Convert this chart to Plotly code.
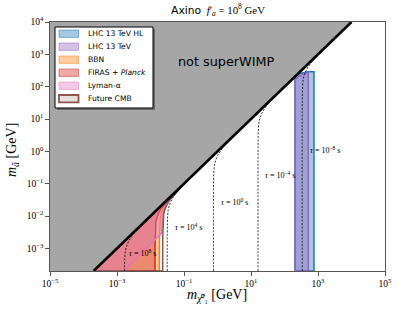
import plotly.graph_objects as go

# ---------------- data (GeV) ----------------
y_floor = 2e-4
diag_x = [2e-4, 1e4]
diag_y = [2e-4, 1e4]

# LHC regions
lhc_hl_x = [206, 206, 288, 513, 759, 759]
lhc_hl_y = [2e-4, 204, 257, 288, 288, 2e-4]
lhc_x = [206, 206, 282, 398, 513, 513]
lhc_y = [2e-4, 169, 214, 257, 278, 2e-4]

# cosmological boundaries (bottom -> kinematic edge)
firas_x = [0.01361, 0.01368, 0.01393, 0.01459, 0.0160, 0.01837, 0.0226, 0.0291, 0.0393, 0.0542]
firas_y = [2e-4, 1.361e-3, 4.11e-3, 6.82e-3, 9.64e-3, 0.01361, 0.01923, 0.02655, 0.03664, 0.0518]
bbn_x = [0.01832, 0.01841, 0.01875, 0.01963, 0.02153, 0.02472, 0.0304, 0.0392, 0.0528, 0.0730]
bbn_y = [2e-4, 1.832e-3, 5.53e-3, 9.18e-3, 0.01297, 0.01832, 0.0259, 0.0357, 0.0493, 0.0697]
cmb_x = [0.02312, 0.02323, 0.02366, 0.02477, 0.02716, 0.03119, 0.03837, 0.04943, 0.0667, 0.0920]
cmb_y = [2e-4, 2.312e-3, 6.98e-3, 0.01159, 0.01637, 0.02312, 0.03266, 0.04508, 0.0622, 0.0879]
lya_x = [1.66e-3, 0.02153, 0.02203, 0.02307, 0.02529, 0.02904, 0.0357, 0.0460, 0.0621, 0.0857]
lya_y = [2e-4, 3.02e-3, 6.50e-3, 0.01079, 0.01524, 0.02153, 0.0304, 0.0420, 0.0579, 0.0818]

# lifetime contours
tau_labels = ["10<sup>8</sup>", "10<sup>4</sup>", "10<sup>0</sup>", "10<sup>−4</sup>", "10<sup>−8</sup>"]
tau_x = [
    [1.66e-3, 1.70e-3, 1.78e-3, 1.95e-3, 2.24e-3, 2.75e-3, 3.55e-3, 4.8e-3, 6.6e-3],
    [0.0316, 0.0317, 0.0324, 0.0339, 0.0372, 0.0427, 0.0525, 0.0676, 0.0912, 0.126],
    [0.759, 0.762, 0.776, 0.813, 0.891, 1.023, 1.259, 1.622, 2.188, 3.02],
    [16.2, 16.3, 16.6, 17.4, 19.1, 21.9, 26.9, 34.7, 46.8, 64.6],
    [339, 340, 347, 363, 398, 457, 562, 724, 977, 1349],
]
tau_y = [
    [2e-4, 5e-4, 8.3e-4, 1.17e-3, 1.66e-3, 2.34e-3, 3.24e-3, 4.47e-3, 6.3e-3],
    [2e-4, 3.16e-3, 9.5e-3, 0.0158, 0.0224, 0.0316, 0.0447, 0.0617, 0.0851, 0.120],
    [2e-4, 0.0759, 0.229, 0.380, 0.537, 0.759, 1.072, 1.479, 2.042, 2.884],
    [2e-4, 1.62, 4.90, 8.13, 11.5, 16.2, 22.9, 31.6, 43.7, 61.7],
    [2e-4, 33.9, 102, 170, 240, 339, 479, 661, 912, 1288],
]
# label anchor positions (log10 GeV)
tau_lab_lx = [-2.71, -1.32, 0.03, 1.37, 2.71]
tau_lab_ly = [-3.13, -2.34, -1.56, -0.73, 0.04]

x_tickvals = [1e-5, 1e-3, 1e-1, 1e1, 1e3, 1e5]
x_ticktext = ["10<sup>−5</sup>", "10<sup>−3</sup>", "10<sup>−1</sup>", "10<sup>1</sup>", "10<sup>3</sup>", "10<sup>5</sup>"]
y_tickvals = [1e-3, 1e-2, 1e-1, 1, 10, 1e2, 1e3, 1e4]
y_ticktext = ["10<sup>−3</sup>", "10<sup>−2</sup>", "10<sup>−1</sup>", "10<sup>0</sup>", "10<sup>1</sup>", "10<sup>2</sup>", "10<sup>3</sup>", "10<sup>4</sup>"]

legend_names = ["LHC 13 TeV HL", "LHC 13 TeV", "BBN", "FIRAS + <i>Planck</i>", "Lyman-α", "Future CMB"]

# ---------------- styling ----------------
C_BLUE = (31, 119, 180)
C_PURP = (148, 103, 189)
C_ORNG = (255, 127, 14)
C_RED = (214, 39, 40)
C_PINK = (227, 119, 194)
C_BRWN = (140, 86, 75)


def rgba(c, a):
    return "rgba(%d,%d,%d,%s)" % (c[0], c[1], c[2], a)


SERIF = "Liberation Serif"
SANS = "DejaVu Sans"

W, H = 398, 314
ML, MR, MT, MB = 50, 13, 22, 43
PW, PH = W - ML - MR, H - MT - MB


def px(x, y):
    return (x - ML) / PW, 1 - (y - MT) / PH


fig = go.Figure()


def region(xs, ys, c, close_diag=True, pattern=None, fill_alpha=0.4):
    if close_diag:
        X = [y_floor] + list(xs) + [y_floor]
        Y = [y_floor] + list(ys) + [y_floor]
    else:
        X, Y = list(xs) + [xs[0]], list(ys) + [ys[0]]
    kw = {}
    if pattern:
        kw["fillpattern"] = pattern
        fc = "rgba(255,255,255,0)"
    else:
        fc = rgba(c, fill_alpha)
    fig.add_trace(go.Scatter(x=X, y=Y, mode="lines", fill="toself", fillcolor=fc,
                             line=dict(color=rgba(c, 1), width=1.5), showlegend=False,
                             hoverinfo="skip", **kw))


region(lhc_hl_x, lhc_hl_y, C_BLUE, close_diag=False)
region(lhc_x, lhc_y, C_PURP, close_diag=False)
region(bbn_x, bbn_y, C_ORNG)
region(firas_x, firas_y, C_RED)
region(lya_x, lya_y, C_PINK)
region(cmb_x, cmb_y, C_BRWN,
       pattern=dict(shape="x", fgcolor=rgba(C_BRWN, 0.25), size=4, solidity=0.2))

for tx, ty in zip(tau_x, tau_y):
    fig.add_trace(go.Scatter(x=tx, y=ty, mode="lines", line=dict(color="black", width=0.8, dash="2px,1.5px", shape="spline"),
                             showlegend=False, hoverinfo="skip"))

# not-superWIMP region (above m_a = m_chi)
fig.add_trace(go.Scatter(x=[diag_x[0], diag_x[1], 1e-5, 1e-5], y=[diag_y[0], diag_y[1], 1e4, y_floor],
                         mode="lines", fill="toself", fillcolor="#a6a6a6", line=dict(width=0),
                         showlegend=False, hoverinfo="skip"))
fig.add_trace(go.Scatter(x=diag_x, y=diag_y, mode="lines", line=dict(color="black", width=2.6),
                         showlegend=False, hoverinfo="skip"))

ann = []
for lab, lx, ly in zip(tau_labels, tau_lab_lx, tau_lab_ly):
    ann.append(dict(x=lx, y=ly, xref="x", yref="y", text="<i>τ</i> = " + lab + " s", showarrow=False,
                    xanchor="left", yanchor="middle", font=dict(family=SERIF, size=8, color="black")))

ann.append(dict(x=0.28, y=2.79, xref="x", yref="y", text="not superWIMP", showarrow=False,
                font=dict(family=SANS, size=12.8, color="black")))

# title
tx_, ty_ = px(218, 10)
ann.append(dict(x=tx_, y=ty_, xref="paper", yref="paper", showarrow=False, yanchor="middle",
                text='<span style="font-family:DejaVu Sans">Axino</span>  <i>f</i>′<sub><i>a</i></sub> = 10<sup>8</sup> GeV',
                font=dict(family=SERIF, size=10.8, color="black")))
# axis titles
ax_, ay_ = px(217, 295)
ann.append(dict(x=ax_, y=ay_, xref="paper", yref="paper", showarrow=False, yanchor="middle",
                text="<i>m</i><sub><i>χ̃</i>⁰₁</sub> [GeV]",
                font=dict(family=SERIF, size=14, color="black")))
bx_, by_ = px(12, 150)
ann.append(dict(x=bx_, y=by_, xref="paper", yref="paper", showarrow=False, textangle=-90,
                xanchor="center", yanchor="middle",
                text="<i>m</i><sub><i>ã</i></sub> [GeV]", font=dict(family=SERIF, size=14, color="black")))

# custom legend
shapes = []
x0, y0 = px(57, 29)
x1, y1 = px(155, 110)
shapes.append(dict(type="rect", xref="paper", yref="paper", x0=x0, y0=y0, x1=x1, y1=y1,
                   fillcolor="rgba(60,60,60,0.55)", line=dict(width=0), layer="above"))
x0, y0 = px(55, 27)
x1, y1 = px(153, 108)
shapes.append(dict(type="rect", xref="paper", yref="paper", x0=x0, y0=y0, x1=x1, y1=y1,
                   fillcolor="white", line=dict(color="black", width=1), layer="above"))
sw_cols = [C_BLUE, C_PURP, C_ORNG, C_RED, C_PINK]
for i, name in enumerate(legend_names):
    cy = 33.7 + 13 * i
    sx0, sy0 = px(59, cy - 3.7)
    sx1, sy1 = px(78.5, cy + 3.7)
    if i < 5:
        shapes.append(dict(type="rect", xref="paper", yref="paper", x0=sx0, y0=sy0, x1=sx1, y1=sy1,
                           fillcolor=rgba(sw_cols[i], 0.4), line=dict(color=rgba(sw_cols[i], 0.5), width=1),
                           layer="above"))
    else:
        shapes.append(dict(type="rect", xref="paper", yref="paper", x0=sx0, y0=sy0, x1=sx1, y1=sy1,
                           fillcolor="#e4e0e0", line=dict(color=rgba(C_BRWN, 1), width=1.8), layer="above"))
    lx_, ly_ = px(86, cy)
    ann.append(dict(x=lx_, y=ly_, xref="paper", yref="paper", text=name, showarrow=False,
                    xanchor="left", yanchor="middle", font=dict(family=SANS, size=7.6, color="black")))

axis_common = dict(type="log", showgrid=False, zeroline=False, showline=True, linecolor="#555",
                   linewidth=1.4, mirror=True, ticks="outside", ticklen=3.5, tickwidth=1, tickcolor="#555",
                   tickfont=dict(family=SERIF, size=9.5, color="black"))

fig.update_layout(
    width=W, height=H, margin=dict(l=ML, r=MR, t=MT, b=MB, autoexpand=False),
    paper_bgcolor="white", plot_bgcolor="white",
    xaxis=dict(range=[-5, 5], tickvals=x_tickvals, ticktext=x_ticktext, **axis_common),
    yaxis=dict(range=[-3.699, 4], tickvals=y_tickvals, ticktext=y_ticktext, **axis_common),
    annotations=ann, shapes=shapes, showlegend=False,
)

fig.write_html("out.html", config={"displayModeBar": False},
               post_script="document.body.style.margin='0';document.body.style.padding='0';"
                           "document.body.style.overflow='hidden';")
